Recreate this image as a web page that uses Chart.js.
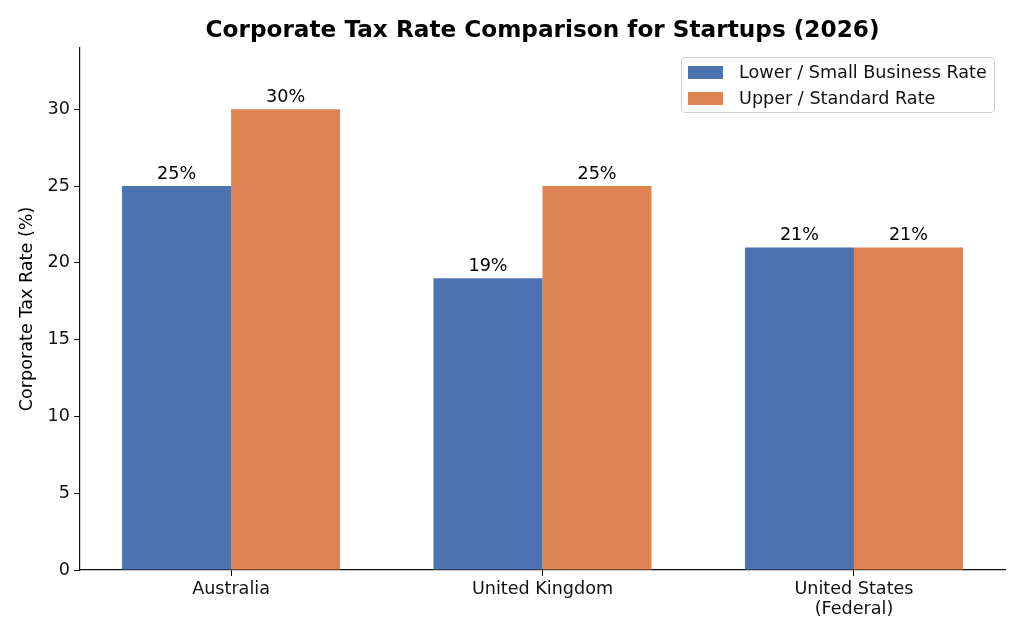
<!DOCTYPE html>
<html>
<head>
<meta charset="utf-8">
<script src="https://cdn.jsdelivr.net/npm/chart.js@4"></script>
<style>
  html, body { margin: 0; padding: 0; background: #fff; }
  #wrap { position: relative; width: 1024px; height: 640px; }
  #legend {
    position: absolute; left: 681px; top: 57px; width: 312px; height: 54px;
    border: 1px solid #d0d0d0; border-radius: 4px; background: rgba(255,255,255,0.85);
    font-family: "DejaVu Sans", sans-serif; font-size: 17.6px; color: #111;
  }
  #legend .item { position: absolute; left: 6px; height: 20px; line-height: 20px; white-space: nowrap; }
  #legend .box { display: inline-block; width: 35px; height: 13px; vertical-align: -1px; margin-right: 16px; }
</style>
</head>
<body>
<div id="wrap">
  <canvas id="taxChart" width="1024" height="640"></canvas>
  <div id="legend"></div>
</div>
<script>
var countries = ['Australia', 'United Kingdom', ['United States', '(Federal)']];
var lowerRate = [25, 19, 21];
var upperRate = [30, 25, 21];
var seriesNames = ['Lower / Small Business Rate', 'Upper / Standard Rate'];
var yTicks = [0, 5, 10, 15, 20, 25, 30];

var fontFamily = '"DejaVu Sans", sans-serif';
var textSize = 17.6;

// writes the "25%" style labels above each bar
var valueLabels = {
    id: 'valueLabels',
    afterDatasetsDraw: function (chart) {
        var ctx = chart.ctx;
        ctx.save();
        ctx.font = textSize + 'px ' + fontFamily;
        ctx.fillStyle = '#000';
        ctx.textAlign = 'center';
        ctx.textBaseline = 'bottom';
        chart.data.datasets.forEach(function (ds, i) {
            chart.getDatasetMeta(i).data.forEach(function (bar, j) {
                ctx.fillText(ds.data[j] + '%', bar.x, bar.y - 3);
            });
        });
        ctx.restore();
    }
};

var ctx = document.getElementById('taxChart').getContext('2d');
var taxChart = new Chart(ctx, {
    type: 'bar',
    data: {
        labels: countries,
        datasets: [{
            label: seriesNames[0],
            data: lowerRate,
            backgroundColor: '#4C72B0'
        }, {
            label: seriesNames[1],
            data: upperRate,
            backgroundColor: '#DD8452'
        }]
    },
    options: {
        responsive: false,
        animation: false,
        layout: { padding: { left: 0, right: 19, top: 0, bottom: 0 } },
        datasets: {
            bar: { categoryPercentage: 0.7, barPercentage: 1.0 }
        },
        plugins: {
            legend: { display: false },
            tooltip: { enabled: false },
            title: {
                display: true,
                fullSize: false,
                text: 'Corporate Tax Rate Comparison for Startups (2026)',
                color: '#000',
                font: { family: fontFamily, size: 23.2, weight: 'bold' },
                padding: { top: 17, bottom: 3 }
            }
        },
        scales: {
            x: {
                offset: false,
                grid: { display: true, drawOnChartArea: false, offset: false, tickLength: 6, color: '#111' },
                border: { display: true, color: '#111', width: 1.2 },
                ticks: { color: '#111', font: { family: fontFamily, size: textSize, lineHeight: 1.1 }, padding: 4, maxRotation: 0 },
                afterBuildTicks: function (scale) {
                    // same side margins as the original: 5% of the bar span
                    scale._startValue = -0.485;
                    scale._valueRange = 2.97;
                },
                afterFit: function (scale) { scale.height = 70; }
            },
            y: {
                min: 0,
                max: 34,
                grid: { display: true, drawOnChartArea: false, tickLength: 6, color: '#111' },
                border: { display: true, color: '#111', width: 1.2 },
                ticks: { color: '#111', font: { family: fontFamily, size: textSize }, padding: 4 },
                afterBuildTicks: function (scale) {
                    scale.ticks = yTicks.map(function (v) { return { value: v }; });
                },
                title: {
                    display: true,
                    text: 'Corporate Tax Rate (%)',
                    color: '#000',
                    font: { family: fontFamily, size: textSize },
                    padding: { top: 17, bottom: 0 }
                },
                afterFit: function (scale) { scale.width = 80; }
            }
        }
    },
    plugins: [valueLabels]
});

// legend box in the top right corner
var legendEl = document.getElementById('legend');
taxChart.data.datasets.forEach(function (ds, i) {
    var item = document.createElement('div');
    item.className = 'item';
    item.style.top = (4 + i * 26) + 'px';
    item.innerHTML = '<span class="box" style="background:' + ds.backgroundColor + '"></span>' + ds.label;
    legendEl.appendChild(item);
});
</script>
</body>
</html>
